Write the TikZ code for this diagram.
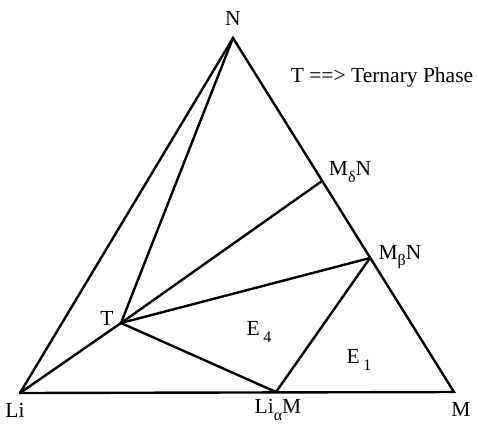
\documentclass[tikz,border=0pt]{standalone}
\usepackage{fontspec}
\setmainfont{Liberation Serif}
\newcommand{\sbs}[1]{\raisebox{-0.3em}{\fontsize{16}{16}\selectfont #1}}
\begin{document}
\begin{tikzpicture}[x=1pt,y=-1pt,
  ln/.style={line width=2.4pt,line join=miter,line cap=round},
  lbl/.style={font=\fontsize{21.5}{23}\selectfont,inner sep=0pt}]
\useasboundingbox (0,0) rectangle (478,423);
% vertices
\coordinate (N) at (233,38);
\coordinate (Li) at (20,393);
\coordinate (M) at (454,392);
\coordinate (LaM) at (276,392);
\coordinate (MdN) at (322,181);
\coordinate (MbN) at (370,258);
\coordinate (T) at (121,323);
% edges
\draw[ln] (Li) -- (N) -- (M) -- (Li);
\draw[ln] (N) -- (T);
\draw[ln] (Li) -- (T);
\draw[ln] (T) -- (MdN);
\draw[ln] (T) -- (MbN);
\draw[ln] (T) -- (LaM);
\draw[ln] (LaM) -- (MbN);
% labels
\node[lbl] (lN) at (233,18) {N};
\node[lbl] (lLi) at (15,410) {Li};
\node[lbl] (lLaM) at (278,410) {Li\sbs{α}M};
\node[lbl] (lM) at (461,409) {M};
\node[lbl] (lMdN) at (350,172) {M\sbs{δ}N};
\node[lbl] (lMbN) at (400,257) {M\sbs{β}N};
\node[lbl] (lT) at (107,318) {T};
\node[lbl] (lE4) at (259,332) {E\,\sbs{4}};
\node[lbl] (lE1) at (359,360) {E\,\sbs{1}};
\node[lbl] (leg) at (382,77) {T ==> Ternary Phase};
\end{tikzpicture}
\end{document}
